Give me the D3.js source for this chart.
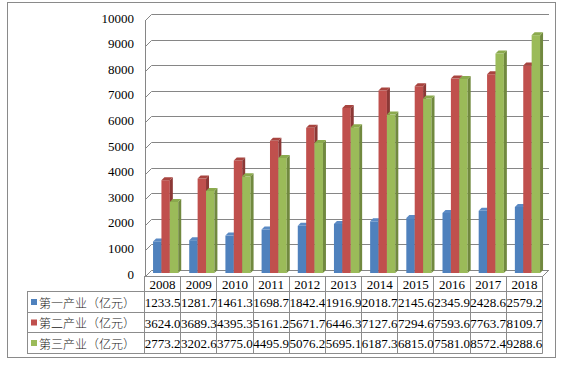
<!DOCTYPE html>
<html><head><meta charset="utf-8">
<script src="https://cdn.jsdelivr.net/npm/d3@7"></script>
<style>body{margin:0;background:#fff}svg{display:block}</style>
</head><body>
<script>
const years = ["2008","2009","2010","2011","2012","2013","2014","2015","2016","2017","2018"];
const seriesNames = ["第一产业（亿元）","第二产业（亿元）","第三产业（亿元）"];
const primary = [1233.5,1281.7,1461.3,1698.7,1842.4,1916.9,2018.7,2145.6,2345.9,2428.6,2579.2];
const secondary = [3624.0,3689.3,4395.3,5161.2,5671.7,6446.3,7127.6,7294.6,7593.6,7763.7,8109.7];
const tertiary = [2773.2,3202.6,3775.0,4495.9,5076.2,5695.1,6187.3,6815.0,7581.0,8572.4,9288.6];
const yTicks = [0,1000,2000,3000,4000,5000,6000,7000,8000,9000,10000];

const series = [primary, secondary, tertiary];
const colors = ["#4F81BD","#C0504D","#9BBB59"];
const sideColors = ["#385D8A","#8C3836","#71893F"];
const topColors = ["#5B8AC4","#A8443F","#8BAA4D"];

const W=567,H=368;
const svg=d3.select("body").append("svg").attr("width",W).attr("height",H);
const serif="'Liberation Serif','Times New Roman',serif";
const cjk="'Noto Sans CJK SC','Noto Sans',sans-serif";
const grid="#868686";

svg.append("rect").attr("x",7.5).attr("y",2.5).attr("width",548).attr("height",355)
  .attr("fill","#fff").attr("stroke","#8a8a8a");

const x0=144, x1=542;
const depth=6;
const x=d3.scaleBand().domain(years).range([x0,x1]);
const yFront=d3.scaleLinear().domain([0,10000]).range([276,20]);
const yMid=d3.scaleLinear().domain([0,10000]).range([273,17]);

// back wall gridlines + left wall diagonals
yTicks.forEach(t=>{
  const yf=Math.round(yFront(t))+0.5;
  svg.append("path").attr("fill","none").attr("stroke",grid)
    .attr("d",`M${x0+1.5},${yf} L${x0+1.5+depth},${yf-depth} L${x1+depth+1},${yf-depth}`);
});
svg.append("line").attr("x1",x0+1.5).attr("x2",x0+1.5).attr("y1",yFront(10000)).attr("y2",yFront(0))
  .attr("stroke",grid);
svg.append("line").attr("x1",x1+0.5).attr("y1",yFront(0)+0.5).attr("x2",x1+depth+0.5).attr("y2",yFront(0)-depth+0.5)
  .attr("stroke",grid);

// y labels
svg.append("g").selectAll("text").data(yTicks).join("text")
  .attr("x",134).attr("y",d=>yFront(d)-2).attr("text-anchor","end")
  .attr("dominant-baseline","central").attr("font-family",serif).attr("font-size",13)
  .attr("fill","#000").text(d=>d);

// bars
const bw=x.bandwidth()*0.232, off=x.bandwidth()*0.25, dd=3;
const gBars=svg.append("g");
years.forEach((yr,i)=>{
  series.forEach((s,k)=>{
    const bx=x(yr)+off+k*bw, top=yMid(s[i]), base=yMid(0);
    const g=gBars.append("g");
    g.append("rect").attr("x",bx).attr("y",top).attr("width",bw).attr("height",base-top).attr("fill",colors[k]);
    g.append("path").attr("fill",sideColors[k])
      .attr("d",`M${bx+bw},${top} L${bx+bw+dd},${top-dd} L${bx+bw+dd},${base-dd} L${bx+bw},${base} Z`);
    g.append("path").attr("fill",topColors[k])
      .attr("d",`M${bx},${top} L${bx+dd},${top-dd} L${bx+bw+dd},${top-dd} L${bx+bw},${top} Z`);
  });
});

// table
const rowY=[276,291,312,332,353];
const tc="#8c8c8c";
const tab=svg.append("g");
tab.append("line").attr("x1",x0).attr("x2",x1+0.5).attr("y1",rowY[0]+0.5).attr("y2",rowY[0]+0.5).attr("stroke",tc);
for(let r=1;r<rowY.length;r++){
  tab.append("line").attr("x1",27).attr("x2",x1+0.5).attr("y1",rowY[r]+0.5).attr("y2",rowY[r]+0.5).attr("stroke",tc);
}
tab.append("line").attr("x1",27.5).attr("x2",27.5).attr("y1",rowY[1]).attr("y2",rowY[4]+0.5).attr("stroke",tc);
years.concat(["end"]).forEach((yr,i)=>{
  const xx=Math.round(x0+i*x.bandwidth())+0.5;
  tab.append("line").attr("x1",xx).attr("x2",xx).attr("y1",rowY[0]).attr("y2",rowY[4]+0.5).attr("stroke",tc);
});
tab.selectAll("text.yr").data(years).join("text").attr("class","yr")
  .attr("x",d=>x(d)+x.bandwidth()/2+0.5).attr("y",(rowY[0]+rowY[1])/2+1)
  .attr("text-anchor","middle").attr("dominant-baseline","central")
  .attr("font-family",serif).attr("font-size",13).text(d=>d);
series.forEach((s,k)=>{
  const cy=(rowY[k+1]+rowY[k+2])/2+0.5;
  tab.append("rect").attr("x",31).attr("y",cy-3).attr("width",6).attr("height",6).attr("fill",colors[k]);
  tab.append("text").attr("x",39).attr("y",cy).attr("dominant-baseline","central")
    .attr("font-family",cjk).attr("font-size",12).attr("font-weight",300).attr("fill","#222")
    .attr("textLength",96).attr("lengthAdjust","spacing").text(seriesNames[k]);
  tab.selectAll(null).data(s).join("text")
    .attr("x",(d,i)=>x(years[i])+x.bandwidth()/2+0.5).attr("y",cy+0.5)
    .attr("text-anchor","middle").attr("dominant-baseline","central")
    .attr("font-family",serif).attr("font-size",13).text(d=>d.toFixed(1));
});
</script>
</body></html>
